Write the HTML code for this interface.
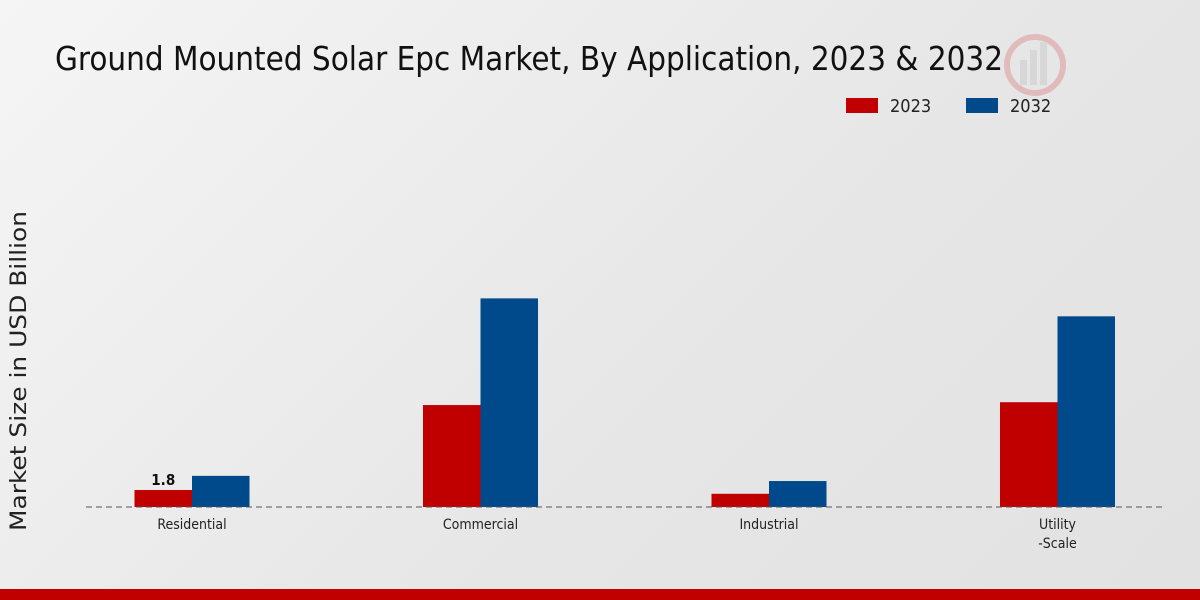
<!DOCTYPE html>
<html><head><meta charset="utf-8"><style>
body{margin:0;width:1200px;height:600px;overflow:hidden;background:linear-gradient(135deg,#f5f5f5 0%,#e6e6e6 60%,#e2e2e2 100%);font-family:"DejaVu Sans Condensed","DejaVu Sans","Liberation Sans",sans-serif}
svg{position:absolute;left:0;top:0}
text{font-family:"DejaVu Sans Condensed","DejaVu Sans","Liberation Sans",sans-serif}
</style></head><body>
<svg width="1200" height="600">
<text x="55" y="70" font-size="33" fill="#111" textLength="948" lengthAdjust="spacingAndGlyphs">Ground Mounted Solar Epc Market, By Application, 2023 &amp; 2032</text>
<g opacity="0.18">
<circle cx="1035" cy="65" r="28" fill="none" stroke="#c00" stroke-width="6"/>
<rect x="1020" y="60" width="7" height="25" fill="#999"/><rect x="1030" y="50" width="7" height="35" fill="#999"/><rect x="1040" y="42" width="7" height="43" fill="#999"/>
</g>
<rect x="846" y="98" width="32" height="15" fill="#c00000"/>
<text x="890" y="112" font-size="18" fill="#222">2023</text>
<rect x="966" y="98" width="32" height="15" fill="#004a8b"/>
<text x="1010" y="112" font-size="18" fill="#222">2032</text>
<text transform="translate(26,371) rotate(-90)" text-anchor="middle" font-size="22" fill="#222" textLength="320" lengthAdjust="spacingAndGlyphs">Market Size in USD Billion</text>
<g id="plot"></g>
<line x1="86" y1="507" x2="1163" y2="507" stroke="#555" stroke-dasharray="6,4"/>
<rect x="0" y="589" width="1200" height="11" fill="#c00000"/>
</svg>
<script>
const categories=["Residential","Commercial","Industrial","Utility\n-Scale"];
const values2023=[1.8,10.8,1.4,11.1];
const values2032=[3.3,22.1,2.75,20.2];
const labels2023=["1.8","","",""];
const ns="http://www.w3.org/2000/svg";
const g=document.getElementById('plot');
const y0=507,scale=9.44,x0=192,step=288.5,bw=57.5;
const xc=i=>x0+i*step;
const yv=v=>y0-v*scale;
function mk(t,a){const e=document.createElementNS(ns,t);for(const k in a)e.setAttribute(k,a[k]);g.appendChild(e);return e;}
categories.forEach((c,i)=>{
  const r1=mk('rect',{x:xc(i)-bw,y:yv(values2023[i]),width:bw,height:y0-yv(values2023[i]),fill:'#c00000'});
  
  
  const r2=mk('rect',{x:xc(i),y:yv(values2032[i]),width:bw,height:y0-yv(values2032[i]),fill:'#004a8b'});
  
  
  if(labels2023[i]){const t=mk('text',{x:xc(i)-bw/2,y:yv(values2023[i])-5,'text-anchor':'middle','font-size':15,'font-weight':'bold',fill:'#111'});t.textContent=labels2023[i];
  
  }
  c.split('\n').forEach((ln,j)=>{const t=mk('text',{x:xc(i),y:529+j*19,'text-anchor':'middle','font-size':14,fill:'#222'});t.textContent=ln;
  
  });
});
</script>
</body></html>
